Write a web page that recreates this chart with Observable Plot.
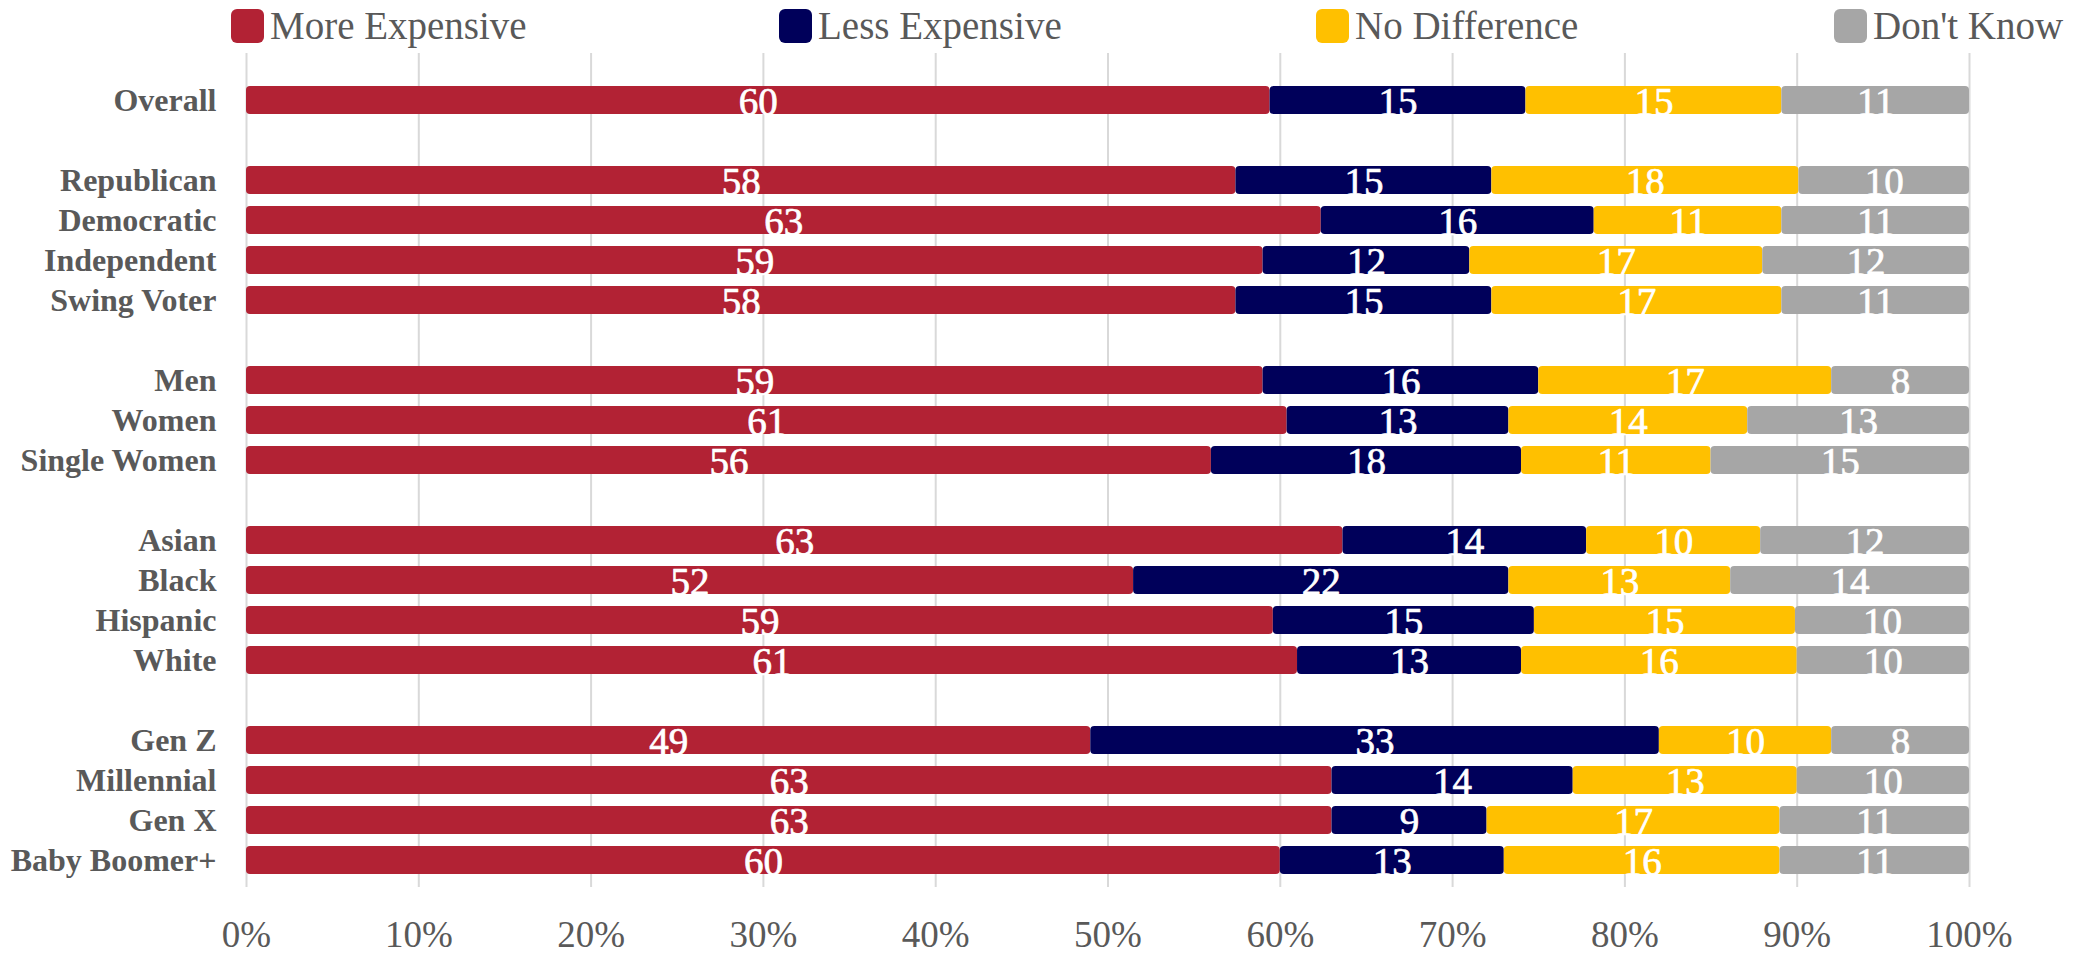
<!DOCTYPE html>
<html>
<head>
<meta charset="utf-8">
<script src="https://cdn.jsdelivr.net/npm/d3@7"></script>
<script src="https://cdn.jsdelivr.net/npm/@observablehq/plot@0.6"></script>
<style>
  html, body { margin: 0; padding: 0; background: #fff; }
  body { width: 2075px; height: 953px; overflow: hidden; font-family: "Liberation Serif", "DejaVu Serif", serif; }
  #legend { position: relative; height: 40px; width: 2075px; }
  .item { position: absolute; top: 0; height: 50px; display: flex; align-items: center; }
  .sw { width: 33px; height: 34px; border-radius: 6px; margin-top: 2px; }
  .lab { margin-left: 6px; font-size: 39px; color: #595959; line-height: 1; }
</style>
</head>
<body>
<div id="legend"></div>
<div id="chart"></div>
<script>
const categories = ["Overall", "_s1", "Republican", "Democratic", "Independent", "Swing Voter", "_s2",
  "Men", "Women", "Single Women", "_s3", "Asian", "Black", "Hispanic", "White", "_s4",
  "Gen Z", "Millennial", "Gen X", "Baby Boomer+"];
const groups = ["Overall", "Republican", "Democratic", "Independent", "Swing Voter",
  "Men", "Women", "Single Women", "Asian", "Black", "Hispanic", "White",
  "Gen Z", "Millennial", "Gen X", "Baby Boomer+"];
const series = ["More Expensive", "Less Expensive", "No Difference", "Don't Know"];
const colors = ["#B22234", "#00005A", "#FFC000", "#A6A6A6"];
const moreExpensive = [60, 58, 63, 59, 58, 59, 61, 56, 63, 52, 59, 61, 49, 63, 63, 60];
const lessExpensive = [15, 15, 16, 12, 15, 16, 13, 18, 14, 22, 15, 13, 33, 14, 9, 13];
const noDifference  = [15, 18, 11, 17, 17, 17, 14, 11, 10, 13, 15, 16, 10, 13, 17, 16];
const dontKnow      = [11, 10, 11, 12, 11, 8, 13, 15, 12, 14, 10, 10, 8, 10, 11, 11];
const xTicks = [0, 0.1, 0.2, 0.3, 0.4, 0.5, 0.6, 0.7, 0.8, 0.9, 1];

const seriesValues = [moreExpensive, lessExpensive, noDifference, dontKnow];
const data = [];
groups.forEach((g, i) => {
  series.forEach((s, j) => data.push({category: g, series: s, value: seriesValues[j][i]}));
});

// legend
const legendLeft = [231, 779, 1316, 1834];
const legend = document.getElementById("legend");
series.forEach((s, j) => {
  const it = document.createElement("div");
  it.className = "item";
  it.style.left = legendLeft[j] + "px";
  it.innerHTML = `<div class="sw" style="background:${colors[j]}"></div><div class="lab">${s.replace("'", "&#39;")}</div>`;
  legend.appendChild(it);
});

const stackOpts = {x: "value", y: "category", z: "series", offset: "normalize"};

const chart = Plot.plot({
  width: 2075,
  height: 913,
  marginLeft: 246,
  marginRight: 106,
  marginTop: 13,
  marginBottom: 66,
  style: {fontFamily: "Liberation Serif, DejaVu Serif, serif", background: "#fff", overflow: "visible"},
  x: {domain: [0, 1], axis: null, label: null},
  y: {domain: categories, padding: 0.3, insetTop: 20, axis: null, label: null},
  color: {domain: series, range: colors},
  marks: [
    Plot.ruleX(xTicks, {stroke: "#D9D9D9", strokeWidth: 2}),
    Plot.barX(data, Plot.stackX({...stackOpts, fill: "series", rx: 4})),
    Plot.text(data, Plot.stackX({...stackOpts, text: d => String(d.value), fill: "white",
      stroke: "white", strokeWidth: 0.7, fontSize: 39, dy: 2})),
    Plot.axisY({tickSize: 0, tickPadding: 30, fontSize: 32, fontWeight: "bold", color: "#595959",
      label: null, tickFormat: d => d.startsWith("_s") ? "" : d}),
    Plot.axisX(xTicks, {tickSize: 0, tickPadding: 33, fontSize: 37, color: "#595959",
      label: null, tickFormat: d => Math.round(d * 100) + "%"})
  ]
});
chart.querySelectorAll("g[aria-label='y-axis tick label'] text, g[aria-label='x-axis tick label'] text").forEach(t => t.style.fill = null);
document.getElementById("chart").appendChild(chart);
</script>
</body>
</html>
